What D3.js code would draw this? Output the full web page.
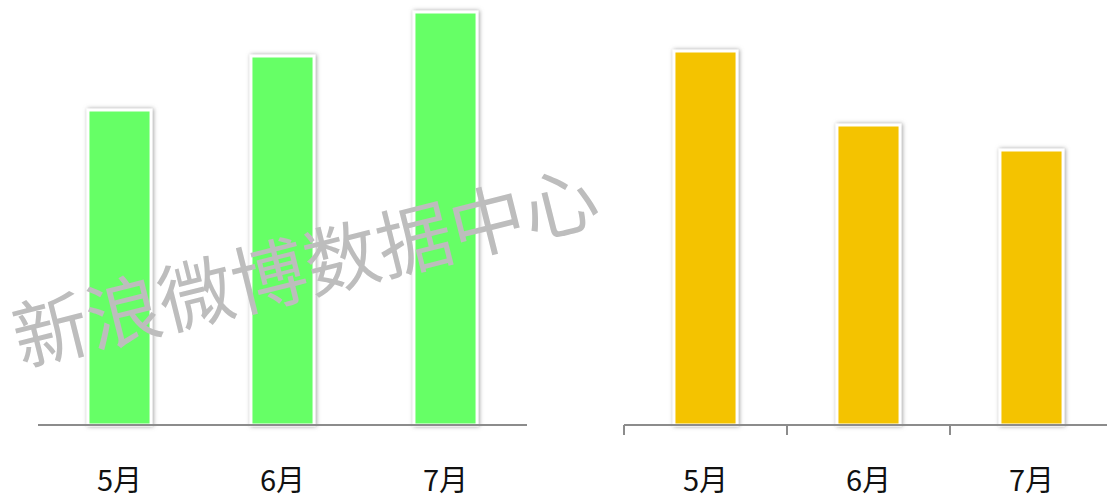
<!DOCTYPE html>
<meta charset="utf-8">
<title>Monthly Bars</title>
<script src="https://d3js.org/d3.v7.min.js"></script>
<style>
  body { margin: 0; background: #fff; }
  svg { display: block; }
  .lbl { font-family: "Noto Sans CJK SC", "Noto Sans", sans-serif; font-size: 29px; fill: #111; }
</style>
<body>
<div id="chart"></div>
<script>
// data
var months = ["5月", "6月", "7月"];
var leftValues = [315, 369, 413];
var rightValues = [374, 300, 275];
var watermark = "新浪微博数据中心";

var W = 1107, H = 499, baseY = 425;

var svg = d3.select("#chart").append("svg")
    .attr("width", W)
    .attr("height", H);

// soft grey shadow round each bar
var defs = svg.append("defs");
var f = defs.append("filter").attr("id", "shadow")
    .attr("x", "-30%").attr("y", "-5%").attr("width", "160%").attr("height", "110%");
f.append("feDropShadow")
    .attr("dx", 1).attr("dy", 0)
    .attr("stdDeviation", 2)
    .attr("flood-color", "#777")
    .attr("flood-opacity", 0.7);

var y = d3.scaleLinear().domain([0, 420]).range([baseY, baseY - 420]);

function panel(x0, x1, values, color, ticks) {
  var x = d3.scaleBand()
      .domain(months)
      .range([x0, x1])
      .paddingInner(0.613)
      .paddingOuter(0.3065);

  var g = svg.append("g");

  g.selectAll("rect")
    .data(values)
    .enter().append("rect")
      .attr("x", function(d, i) { return x(months[i]); })
      .attr("y", function(d) { return y(d); })
      .attr("width", x.bandwidth())
      .attr("height", function(d) { return baseY - y(d); })
      .attr("fill", color)
      .attr("stroke", "#fff")
      .attr("stroke-width", 3)
      .attr("filter", "url(#shadow)");

  g.append("line")
    .attr("x1", x0).attr("x2", ticks ? x1 + 10 : x1)
    .attr("y1", baseY).attr("y2", baseY)
    .attr("stroke", "#8c8c8c")
    .attr("stroke-width", 2);

  if (ticks) {
    var edges = months.map(function(m) { return x(m) - x.step() * x.paddingInner() / 2; });
    edges.push(x1);
    g.selectAll(".tick")
      .data(edges)
      .enter().append("line")
        .attr("x1", function(d) { return d; })
        .attr("x2", function(d) { return d; })
        .attr("y1", baseY).attr("y2", baseY + 10)
        .attr("stroke", "#8c8c8c")
        .attr("stroke-width", 2);
  }

  g.selectAll(".lbl")
    .data(months)
    .enter().append("text")
      .attr("class", "lbl")
      .attr("x", function(d) { return x(d) + x.bandwidth() / 2; })
      .attr("y", 491)
      .attr("text-anchor", "middle")
      .text(function(d) { return d; });
}

panel(38, 527, leftValues, "#66ff66", false);
panel(624, 1113, rightValues, "#f4c300", true);

// watermark
svg.append("text")
  .attr("transform", "translate(312,294) rotate(-14)")
  .attr("text-anchor", "middle")
  .attr("font-family", "Noto Sans CJK SC, sans-serif")
  .attr("font-size", 75)
  .attr("fill", "#bdbdbd")
  .text(watermark);
</script>
</body>
